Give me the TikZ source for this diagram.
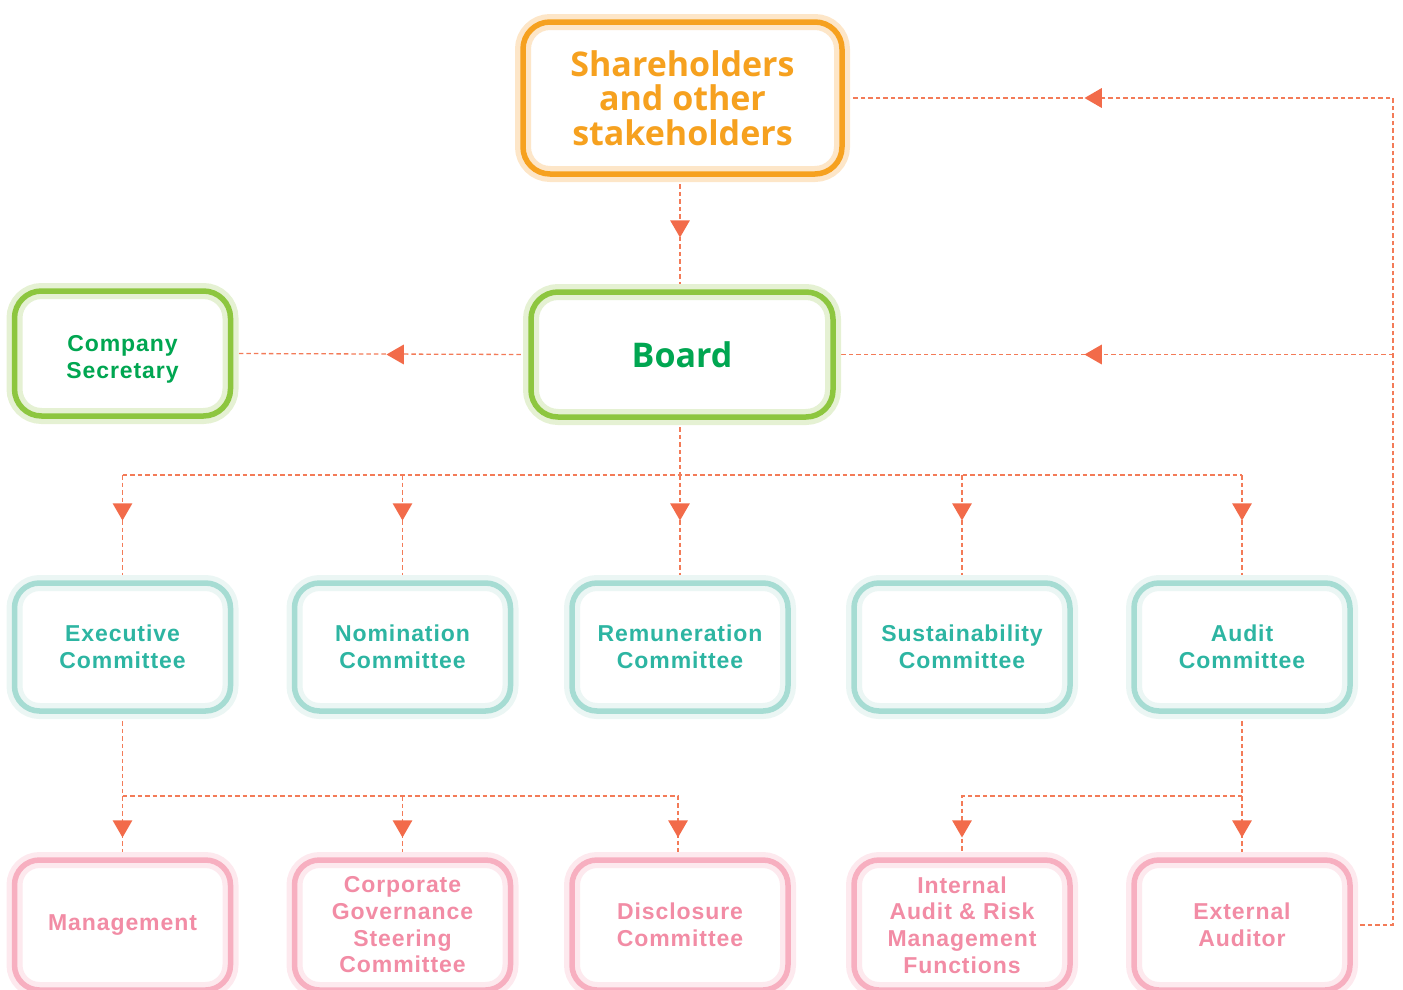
\documentclass[tikz,border=0pt]{standalone}
\usepackage{fontspec}
\setmainfont{Liberation Sans}
\newfontfamily\helv[LetterSpace=4]{Liberation Sans}
\newfontfamily\segoe{Open Sans}
\usetikzlibrary{shapes.geometric,calc}
\pgfdeclarelayer{bg}
\pgfsetlayers{bg,main}
\definecolor{orng}{HTML}{F6A11F}
\definecolor{orngl}{HTML}{FDE6C8}
\definecolor{grn}{HTML}{8DC63F}
\definecolor{grnl}{HTML}{E5F1D3}
\definecolor{grnt}{HTML}{00A651}
\definecolor{teal}{HTML}{A6DCD3}
\definecolor{teall}{HTML}{EBF6F4}
\definecolor{tealt}{HTML}{2DB5A2}
\definecolor{pnk}{HTML}{F7AFC0}
\definecolor{pnkl}{HTML}{FDE9EE}
\definecolor{pnkt}{HTML}{F28CA5}
\definecolor{connc}{HTML}{F37B58}
\definecolor{arrc}{HTML}{F26B4A}
\tikzset{
  box/.style={rounded corners=27pt, inner sep=0pt, align=center, line width=5.5pt},
  orbox/.style={box, preaction={fill=white}, preaction={draw=orngl, line width=16pt}, draw=orng,
     text=orng, font=\segoe\bfseries\fontsize{34}{34.5}\selectfont},
  grbox/.style={box, preaction={fill=white}, preaction={draw=grnl, line width=16pt}, draw=grn, text=grnt},
  tlbox/.style={box, rounded corners=25pt, preaction={fill=white}, preaction={draw=teall, line width=16pt}, draw=teal,
     text=tealt, font=\helv\bfseries\fontsize{23}{26.5}\selectfont, minimum width=216pt, minimum height=128pt},
  pkbox/.style={box, rounded corners=25pt, preaction={fill=white}, preaction={draw=pnkl, line width=16pt}, draw=pnk,
     text=pnkt, font=\helv\bfseries\fontsize{23}{26.7}\selectfont, minimum width=216pt, minimum height=130pt},
  cslabel/.style={text=grnt, align=center, font=\helv\bfseries\fontsize{23}{27}\selectfont},
  conn/.style={draw=connc, line width=1.3pt, dash pattern=on 4.5pt off 3pt},
  tri/.style={regular polygon, regular polygon sides=3, fill=arrc, draw=none, inner sep=0pt, minimum size=23pt},
  tridown/.style={tri, shape border rotate=180},
  trileft/.style={tri, shape border rotate=90}
}
\begin{document}
\begin{tikzpicture}[x=1pt,y=-1pt]
\useasboundingbox (0,0) rectangle (1403,989);
% top
\node[orbox, minimum width=319pt, minimum height=152pt] (sh) at (682.5,98) {Shareholders\\and other\\stakeholders};
\node[grbox, minimum width=302pt, minimum height=125pt, font=\segoe\bfseries\fontsize{34}{35}\selectfont] (bd) at (682,354.5) {Board};
\node[grbox, minimum width=216pt, minimum height=125pt,
      label={[cslabel, yshift=-6pt]center:{Company\\Secretary}}] (cs) at (122.5,353.5) {};
% committees
\node[tlbox] (c1) at (122.5,647) {Executive\\Committee};
\node[tlbox] (c2) at (402.5,647) {Nomination\\Committee};
\node[tlbox] (c3) at (680,647) {Remuneration\\Committee};
\node[tlbox] (c4) at (962,647) {Sustainability\\Committee};
\node[tlbox] (c5) at (1242,647) {Audit\\Committee};
% bottom
\node[pkbox] (b1) at (122.5,925) {Management};
\node[pkbox] (b2) at (402.5,925) {Corporate\\Governance\\Steering\\Committee};
\node[pkbox] (b3) at (680,925) {Disclosure\\Committee};
\node[pkbox] (b4) at (962,925) {Internal\\Audit \& Risk\\Management\\Functions};
\node[pkbox] (b5) at (1242,925) {External\\Auditor};
% coordinates
\coordinate (r1) at (1393,98);
\coordinate (r2) at (1393,354.5);
\coordinate (r3) at (1393,925);
\coordinate (bus) at (680,475);
\coordinate (bus2) at (678,796);
\begin{pgfonlayer}{bg}
\draw[conn] (bus |- sh.south) -- (bus |- bd.north);
\draw[conn] (bd.west) -- (cs.east);
\draw[conn] (b5.east) -- (r3) -- (r1) -- (sh.east);
\draw[conn] (r2) -- (bd.east);
\draw[conn] (bus |- bd.south) -- (bus);
\draw[conn] (c1.north |- bus) -- (c5.north |- bus);
\foreach \c in {c1,c2,c3,c4,c5}{\draw[conn] (\c.north |- bus) -- (\c.north);}
\draw[conn] (c1.south) -- (b1.north);
\draw[conn] (c1.south |- bus2) -- (bus2) -- (bus2 |- b3.north);
\draw[conn] (b2.north |- bus2) -- (b2.north);
\draw[conn] (c5.south) -- (b5.north);
\draw[conn] (c5.south |- bus2) -- (b4.north |- bus2) -- (b4.north);
\end{pgfonlayer}
% arrowheads
\node[tridown] (a0) at (680,226) {};
\node[trileft] (acs) at (398,354.5) {};
\node[trileft] (ash) at (1096,98) {};
\node[trileft] (abd) at (1096,354.5) {};
\node[tridown] (ac1) at (122.5,509) {};
\node[tridown] (ac2) at (402.5,509) {};
\node[tridown] (ac3) at (680,509) {};
\node[tridown] (ac4) at (962,509) {};
\node[tridown] (ac5) at (1242,509) {};
\node[tridown] (ab1) at (122.5,826) {};
\node[tridown] (ab2) at (402.5,826) {};
\node[tridown] (ab3) at (678,826) {};
\node[tridown] (ab4) at (962,826) {};
\node[tridown] (ab5) at (1242,826) {};
\end{tikzpicture}
\end{document}
